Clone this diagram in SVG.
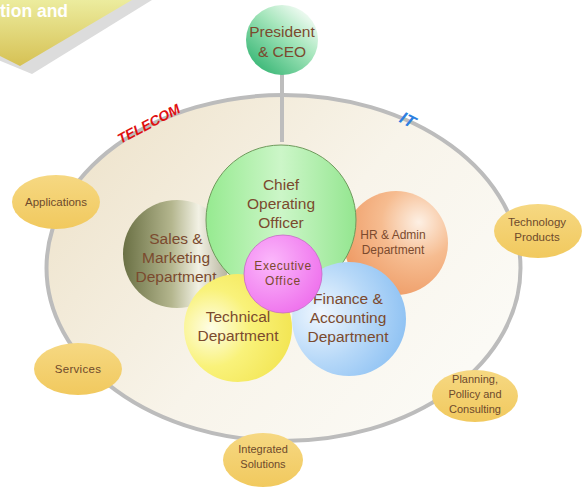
<svg xmlns="http://www.w3.org/2000/svg" width="585" height="488" viewBox="0 0 585 488">
<defs>
<linearGradient id="gBig" x1="0" y1="0" x2="1" y2="0.6">
<stop offset="0" stop-color="#ece0c6"/>
<stop offset="0.6" stop-color="#f8f4ea"/>
<stop offset="1" stop-color="#fbfaf5"/>
</linearGradient>
<linearGradient id="gBanner" x1="0" y1="0" x2="0" y2="1">
<stop offset="0" stop-color="#ecec9e"/>
<stop offset="1" stop-color="#d6c154"/>
</linearGradient>
<linearGradient id="gPres" x1="0.15" y1="0.9" x2="0.85" y2="0.1">
<stop offset="0" stop-color="#3cb878"/>
<stop offset="0.6" stop-color="#a6e6bc"/>
<stop offset="1" stop-color="#f2fbf4"/>
</linearGradient>
<linearGradient id="gCoo" x1="0" y1="0" x2="1" y2="0">
<stop offset="0" stop-color="#96ea90"/>
<stop offset="0.5" stop-color="#ccf6c8"/>
<stop offset="1" stop-color="#94e690"/>
</linearGradient>
<linearGradient id="gSales" x1="0" y1="0" x2="1" y2="0">
<stop offset="0" stop-color="#6a7044"/>
<stop offset="0.45" stop-color="#b4b68e"/>
<stop offset="0.7" stop-color="#f2f1e4"/>
<stop offset="1" stop-color="#b0ad96"/>
</linearGradient>
<radialGradient id="gHr" cx="0.72" cy="0.3" r="0.8">
<stop offset="0" stop-color="#fdf0e4"/>
<stop offset="0.45" stop-color="#f6bc90"/>
<stop offset="1" stop-color="#ee9a64"/>
</radialGradient>
<radialGradient id="gExec" cx="0.35" cy="0.35" r="0.75">
<stop offset="0" stop-color="#fbb8fb"/>
<stop offset="1" stop-color="#ee6eec"/>
</radialGradient>
<radialGradient id="gTech" cx="0.25" cy="0.5" r="0.8">
<stop offset="0" stop-color="#fefde6"/>
<stop offset="0.45" stop-color="#f9f27a"/>
<stop offset="1" stop-color="#f2e450"/>
</radialGradient>
<radialGradient id="gFin" cx="0.25" cy="0.45" r="0.85">
<stop offset="0" stop-color="#f0f7fe"/>
<stop offset="0.5" stop-color="#b6d8f8"/>
<stop offset="1" stop-color="#86bdf2"/>
</radialGradient>
<linearGradient id="gSat" x1="0" y1="0" x2="0" y2="1">
<stop offset="0" stop-color="#f6d882"/>
<stop offset="1" stop-color="#f1c95e"/>
</linearGradient>
<style>
.t{font-family:"Liberation Sans",Arial,sans-serif;fill:#7b4a2e;text-anchor:middle}
.big{font-size:15.5px}
.mid{font-size:12px}
.sm{font-size:11.5px;fill:#6e4a2c}
.sat{fill:url(#gSat)}
</style>
</defs>
<rect width="585" height="488" fill="#ffffff"/>
<g id="banner">
<polygon points="-2,60 32,74 152,0 -2,0" fill="#dcdcdc"/>
<polygon points="-2,55 20,66 132,0 -2,0" fill="url(#gBanner)"/>
<text x="0" y="17" font-family="Liberation Sans,Arial,sans-serif" font-weight="bold" font-size="17.5" fill="#ffffff">tion and</text>
</g>
<g id="ring">
<ellipse cx="283.5" cy="268" rx="237" ry="173" fill="url(#gBig)" stroke="#bcbcbc" stroke-width="4"/>
<text transform="translate(151,128) rotate(-28)" text-anchor="middle" font-family="Liberation Sans,Arial,sans-serif" font-weight="bold" font-style="italic" font-size="14" fill="#e01010">TELECOM</text>
<text transform="translate(405,125) rotate(28)" text-anchor="middle" font-family="Liberation Sans,Arial,sans-serif" font-weight="bold" font-style="italic" font-size="17" fill="#2d7fe0">IT</text>
</g>
<g id="connectors">
<line x1="282" y1="74" x2="282" y2="142" stroke="#bdbdbd" stroke-width="4"/>
</g>
<g id="president">
<ellipse cx="282" cy="40" rx="36" ry="35" fill="url(#gPres)"/>
<text class="t big" x="282" y="37">President</text>
<text class="t big" x="282" y="57">&amp; CEO</text>
</g>
<g id="sales">
<circle cx="177" cy="254" r="54" fill="url(#gSales)"/>
<text class="t big" x="176" y="244">Sales &amp;</text>
<text class="t big" x="176" y="263">Marketing</text>
<text class="t big" x="176" y="282">Department</text>
</g>
<g id="hr">
<circle cx="396" cy="243" r="52" fill="url(#gHr)"/>
<text class="t mid" x="393" y="239">HR &amp; Admin</text>
<text class="t mid" x="393" y="254">Department</text>
</g>
<g id="coo">
<circle cx="281" cy="220" r="75" fill="url(#gCoo)" stroke="#6f9a5c" stroke-width="1"/>
<text class="t big" x="281" y="190">Chief</text>
<text class="t big" x="281" y="209">Operating</text>
<text class="t big" x="281" y="228">Officer</text>
</g>
<g id="technical">
<circle cx="238" cy="328" r="54" fill="url(#gTech)"/>
<text class="t big" x="238" y="322">Technical</text>
<text class="t big" x="238" y="341">Department</text>
</g>
<g id="finance">
<circle cx="349" cy="319" r="57" fill="url(#gFin)"/>
<text class="t big" x="348" y="304">Finance &amp;</text>
<text class="t big" x="348" y="323">Accounting</text>
<text class="t big" x="348" y="342">Department</text>
</g>
<g id="executive">
<circle cx="283" cy="274" r="39" fill="url(#gExec)" stroke="#c56ac5" stroke-width="0.8"/>
<text class="t mid" x="283" y="270" letter-spacing="0.6" fill="#8a4a5c">Executive</text>
<text class="t mid" x="283" y="285" letter-spacing="0.8" fill="#8a4a5c">Office</text>
</g>
<g id="applications">
<ellipse class="sat" cx="56" cy="202" rx="44" ry="27"/>
<text class="t sm" x="56" y="206">Applications</text>
</g>
<g id="services">
<ellipse class="sat" cx="78" cy="369" rx="44" ry="26"/>
<text class="t sm" x="78" y="373" letter-spacing="0.3">Services</text>
</g>
<g id="technology">
<ellipse class="sat" cx="538" cy="231" rx="44" ry="27"/>
<text class="t sm" x="537" y="226">Technology</text>
<text class="t sm" x="537" y="241">Products</text>
</g>
<g id="planning">
<ellipse class="sat" cx="475" cy="396" rx="43" ry="26"/>
<text class="t sm" x="475" y="383" style="font-size:11px">Planning,</text>
<text class="t sm" x="475" y="398" style="font-size:11px">Pollicy  and</text>
<text class="t sm" x="475" y="413" style="font-size:11px">Consulting</text>
</g>
<g id="integrated">
<ellipse class="sat" cx="263" cy="460" rx="40" ry="27"/>
<text class="t sm" x="263" y="453" style="font-size:11px">Integrated</text>
<text class="t sm" x="263" y="468" style="font-size:11px">Solutions</text>
</g>
</svg>
